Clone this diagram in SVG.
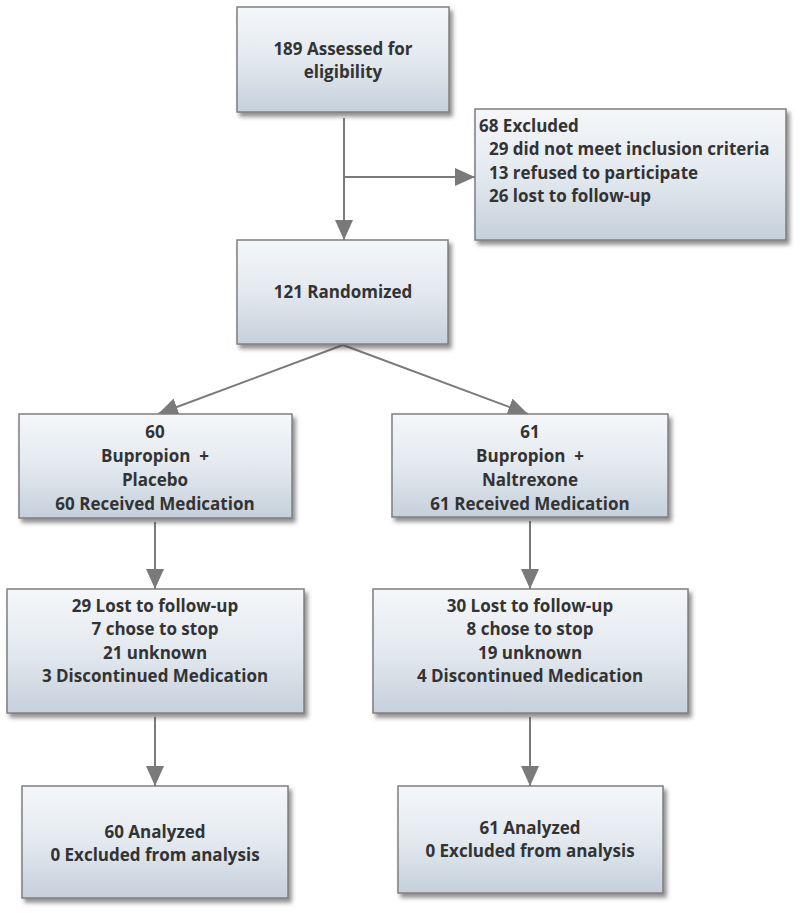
<svg xmlns="http://www.w3.org/2000/svg" width="800" height="913" viewBox="0 0 800 913">
<defs>
<linearGradient id="g" x1="0" y1="0" x2="0" y2="1">
<stop offset="0" stop-color="#f5f7f9"/>
<stop offset="0.5" stop-color="#e3e9ef"/>
<stop offset="1" stop-color="#c5d0db"/>
</linearGradient>
<filter id="sh" x="-10%" y="-10%" width="125%" height="130%">
<feDropShadow dx="3" dy="4" stdDeviation="2" flood-color="#444" flood-opacity="0.6"/>
</filter>
<marker id="ah" markerUnits="userSpaceOnUse" markerWidth="20" markerHeight="18" refX="20" refY="9" orient="auto" viewBox="0 0 20 18">
<path d="M0,0 L20,9 L0,18 z" fill="#7a7a7a"/>
</marker>
</defs>
<style>
.box{fill:url(#g);stroke:#7f7f7f;stroke-width:1.5;filter:url(#sh)}
.t{font-family:"Open Sans","Liberation Sans",sans-serif;font-weight:bold;font-size:17px;fill:#333;text-anchor:middle}
.tl{text-anchor:start}
.c{stroke:#7a7a7a;fill:none;stroke-width:2}
</style>
<g id="connectors">
<line class="c" x1="344" y1="118" x2="344" y2="240" stroke-width="2.5" marker-end="url(#ah)"/>
<line class="c" x1="344" y1="177" x2="475" y2="177" stroke-width="2.5" marker-end="url(#ah)"/>
<line class="c" x1="343" y1="345" x2="158" y2="414" marker-end="url(#ah)"/>
<line class="c" x1="343" y1="345" x2="528" y2="414" marker-end="url(#ah)"/>
<line class="c" x1="155" y1="522" x2="155" y2="589" marker-end="url(#ah)"/>
<line class="c" x1="530" y1="521" x2="530" y2="589" marker-end="url(#ah)"/>
<line class="c" x1="155" y1="717" x2="155" y2="786" marker-end="url(#ah)"/>
<line class="c" x1="530" y1="717" x2="530" y2="786" marker-end="url(#ah)"/>
</g>
<g id="assessed">
<rect class="box" x="237" y="7" width="212" height="105"/>
<text class="t" x="343" y="55">189 Assessed for</text>
<text class="t" x="343" y="78">eligibility</text>
</g>
<g id="excluded">
<rect class="box" x="475" y="109" width="311" height="131"/>
<text class="t tl" x="479" y="132">68 Excluded</text>
<text class="t tl" x="489" y="155">29 did not meet inclusion criteria</text>
<text class="t tl" x="489" y="179">13 refused to participate</text>
<text class="t tl" x="489" y="202">26 lost to follow-up</text>
</g>
<g id="randomized">
<rect class="box" x="237" y="240" width="211" height="104"/>
<text class="t" x="343" y="298">121 Randomized</text>
</g>
<g id="placebo">
<rect class="box" x="19" y="414" width="273" height="104"/>
<text class="t" x="155" y="438">60</text>
<text class="t" x="155" y="462">Bupropion&#160; +</text>
<text class="t" x="155" y="486">Placebo</text>
<text class="t" x="155" y="510">60 Received Medication</text>
</g>
<g id="naltrexone">
<rect class="box" x="392" y="414" width="276" height="103"/>
<text class="t" x="530" y="438">61</text>
<text class="t" x="530" y="462">Bupropion&#160; +</text>
<text class="t" x="530" y="486">Naltrexone</text>
<text class="t" x="530" y="510">61 Received Medication</text>
</g>
<g id="lost-left">
<rect class="box" x="7" y="589" width="297" height="124"/>
<text class="t" x="155" y="612">29 Lost to follow-up</text>
<text class="t" x="155" y="635">7 chose to stop</text>
<text class="t" x="155" y="659">21 unknown</text>
<text class="t" x="155" y="682">3 Discontinued Medication</text>
</g>
<g id="lost-right">
<rect class="box" x="373" y="589" width="315" height="124"/>
<text class="t" x="530" y="612">30 Lost to follow-up</text>
<text class="t" x="530" y="635">8 chose to stop</text>
<text class="t" x="530" y="659">19 unknown</text>
<text class="t" x="530" y="682">4 Discontinued Medication</text>
</g>
<g id="analyzed-left">
<rect class="box" x="22" y="786" width="266" height="112"/>
<text class="t" x="155" y="838">60 Analyzed</text>
<text class="t" x="155" y="861">0 Excluded from analysis</text>
</g>
<g id="analyzed-right">
<rect class="box" x="398" y="786" width="265" height="107"/>
<text class="t" x="530" y="834">61 Analyzed</text>
<text class="t" x="530" y="857">0 Excluded from analysis</text>
</g>
</svg>
